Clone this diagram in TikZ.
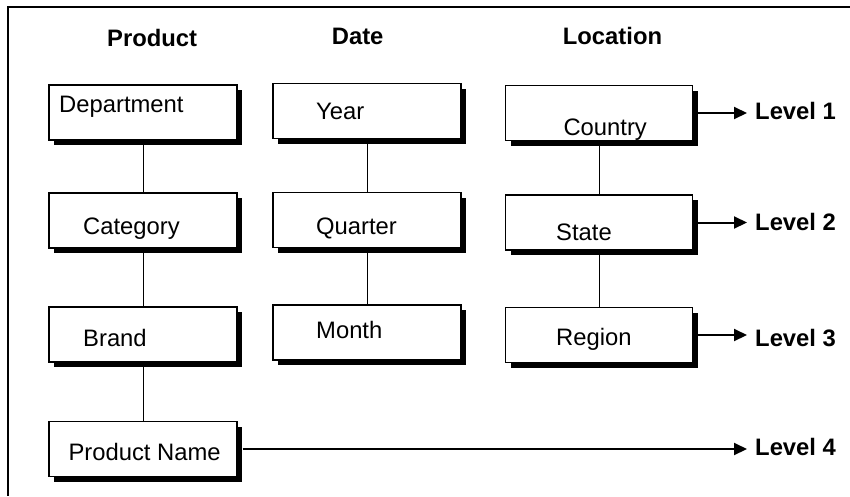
\documentclass[tikz,border=0pt]{standalone}
\usepackage{fontspec}
\setmainfont{Liberation Sans}
\usetikzlibrary{arrows.meta}
\begin{document}
\begin{tikzpicture}[x=1pt,y=-1pt,
  dimbox/.style={draw=black, line width=1.1pt, fill=white, rectangle, inner sep=0pt,
    minimum width=188pt, minimum height=55pt,
    preaction={fill=black, transform canvas={shift={(5pt,-5pt)}}}},
  txt/.style={anchor=base west, inner sep=0pt, font=\fontsize{23.8}{28}\selectfont},
  hdr/.style={txt, font=\fontsize{23.8}{28}\selectfont\bfseries},
  conn/.style={line width=0.9pt},
  lvl/.style={line width=2pt, -{Triangle[length=13pt,width=12pt]}, shorten >=8pt}
]
\useasboundingbox (0,0) rectangle (850,496);
\draw[line width=1.6pt] (850,7) coordinate (tr) -- (8,7) coordinate (tl) -- (8,496) coordinate (bl);

% headers
\node[hdr] (hprod) at (107,46.5) {Product};
\node[hdr] (hdate) at (331.7,44) {Date};
\node[hdr] (hloc) at (562.7,44) {Location};

% level labels
\node[hdr] (L1) at (755,119.3) {Level 1};
\node[hdr] (L2) at (755,230) {Level 2};
\node[hdr] (L3) at (755,346) {Level 3};
\node[hdr] (L4) at (755,455) {Level 4};

% boxes
\node[dimbox] (dept) at (143,112.5) {};
\node[dimbox] (cat) at (143,220.5) {};
\node[dimbox] (brand) at (143,334.5) {};
\node[dimbox] (pname) at (143,449) {};
\node[dimbox] (year) at (367,111) {};
\node[dimbox] (quarter) at (367,220) {};
\node[dimbox] (month) at (367,332.5) {};
\node[dimbox, minimum width=187pt] (country) at (599,113) {};
\node[dimbox, minimum width=187pt] (state) at (599,222.5) {};
\node[dimbox, minimum width=187pt] (region) at (599,335) {};

% connectors
\draw[conn] (dept.south) -- (cat.north);
\draw[conn] (cat.south) -- (brand.north);
\draw[conn] (brand.south) -- (pname.north);
\draw[conn] (year.south) -- (quarter.north);
\draw[conn] (quarter.south) -- (month.north);
\draw[conn] (country.south) -- (state.north);
\draw[conn] (state.south) -- (region.north);

% level arrows
\draw[lvl] ([xshift=5pt]country.east) -- (country.east -| L1.west);
\draw[lvl] ([xshift=5pt]state.east) -- (state.east -| L2.west);
\draw[lvl] ([xshift=5pt]region.east) -- (region.east -| L3.west);
\draw[lvl] ([xshift=5pt]pname.east) -- (pname.east -| L4.west);

% box texts
\node[txt] (tdept) at (59,112.7) {Department};
\node[txt] (tcat) at (83,234.3) {Category};
\node[txt] (tbrand) at (83,346) {Brand};
\node[txt] (tpname) at (68.3,460.7) {Product Name};
\node[txt] (tyear) at (316,119) {Year};
\node[txt] (tquarter) at (316,234) {Quarter};
\node[txt] (tmonth) at (316,338.3) {Month};
\node[txt] (tcountry) at (563.3,135) {Country};
\node[txt] (tstate) at (556,240.7) {State};
\node[txt] (tregion) at (556,345) {Region};
\end{tikzpicture}
\end{document}
